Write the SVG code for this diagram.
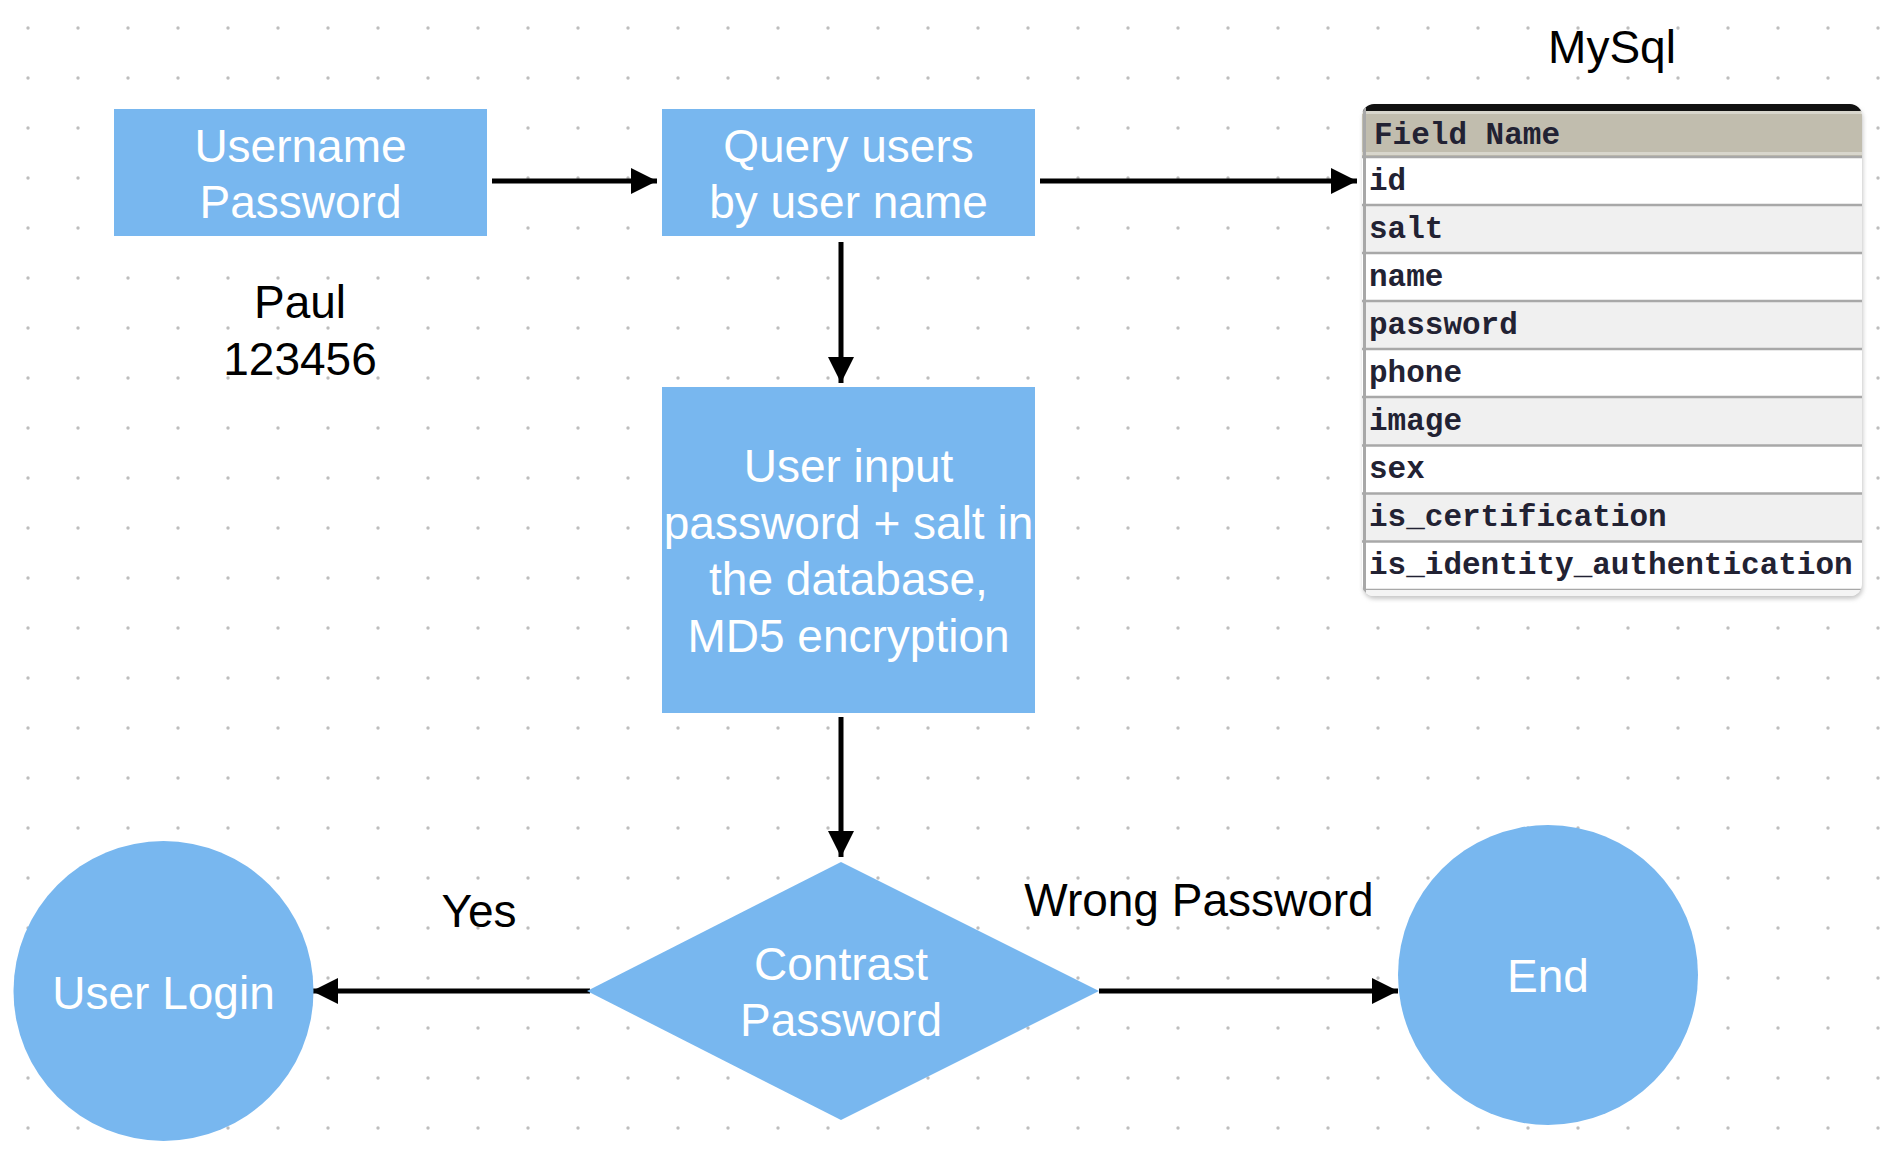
<svg xmlns="http://www.w3.org/2000/svg" width="1882" height="1158" viewBox="0 0 1882 1158">
<style>
.node{fill:#78B7EF}
.nt{font-family:"Liberation Sans",Arial,sans-serif;font-size:46px;fill:#ffffff;text-anchor:middle}
.lbl{font-family:"Liberation Sans",Arial,sans-serif;font-size:46px;fill:#000000;text-anchor:middle}
.edge{stroke:#000;stroke-width:5;fill:none}
.fld{font-family:"Liberation Mono","Courier New",monospace;font-size:31px;fill:#222233;font-weight:bold}
.sep{stroke:#A8A8A8;stroke-width:2.5}
</style>
<defs>
<pattern id="dots" patternUnits="userSpaceOnUse" x="3" y="3" width="50" height="50">
<circle cx="25" cy="25" r="1.7" fill="#BDBDBD"/>
</pattern>
<marker id="ah" markerUnits="userSpaceOnUse" markerWidth="26" markerHeight="26" refX="26" refY="13" orient="auto">
<path d="M0,0 L26,13 L0,26 Z" fill="#000"/>
</marker>
<clipPath id="tclip"><rect x="1362" y="104" width="500" height="492" rx="12"/></clipPath>
<filter id="shadow" x="-5%" y="-5%" width="110%" height="110%"><feGaussianBlur stdDeviation="2"/></filter>
</defs>
<rect width="1882" height="1158" fill="#ffffff"/>
<rect width="1882" height="1158" fill="url(#dots)"/>

<g id="connectors">
<line class="edge" x1="492" y1="181" x2="657" y2="181" marker-end="url(#ah)"/>
<line class="edge" x1="1040" y1="181" x2="1357" y2="181" marker-end="url(#ah)"/>
<line class="edge" x1="841" y1="242" x2="841" y2="383" marker-end="url(#ah)"/>
<line class="edge" x1="841" y1="717" x2="841" y2="857" marker-end="url(#ah)"/>
<line class="edge" x1="590" y1="991" x2="312" y2="991" marker-end="url(#ah)"/>
<line class="edge" x1="1099" y1="991" x2="1398" y2="991" marker-end="url(#ah)"/>
</g>

<g id="n-username">
<rect class="node" x="114" y="109" width="373" height="127"/>
<text class="nt" x="300.5" y="162">Username</text>
<text class="nt" x="300.5" y="218">Password</text>
</g>

<g id="t-paul">
<text class="lbl" x="300" y="318">Paul</text>
<text class="lbl" x="300" y="375">123456</text>
</g>

<g id="n-query">
<rect class="node" x="662" y="109" width="373" height="127"/>
<text class="nt" x="848.5" y="162">Query users</text>
<text class="nt" x="848.5" y="218">by user name</text>
</g>

<g id="n-md5">
<rect class="node" x="662" y="387" width="373" height="326"/>
<text class="nt" x="848.5" y="482">User input</text>
<text class="nt" x="848.5" y="539">password + salt in</text>
<text class="nt" x="848.5" y="595">the database,</text>
<text class="nt" x="848.5" y="652">MD5 encryption</text>
</g>

<g id="n-contrast">
<polygon class="node" points="841,862 1099,991 841,1120 587,991"/>
<text class="nt" x="841" y="980">Contrast</text>
<text class="nt" x="841" y="1036">Password</text>
</g>

<g id="n-login">
<circle class="node" cx="163.5" cy="991" r="150"/>
<text class="nt" x="163.5" y="1009">User Login</text>
</g>

<g id="n-end">
<circle class="node" cx="1548" cy="975" r="150"/>
<text class="nt" x="1548" y="992">End</text>
</g>

<g id="t-labels">
<text class="lbl" x="479" y="927">Yes</text>
<text class="lbl" x="1199" y="916">Wrong Password</text>
<text class="lbl" x="1612" y="63">MySql</text>
</g>

<g id="mysql-table">
<rect x="1363" y="107" width="500" height="492" rx="12" fill="#C8C8C8" filter="url(#shadow)"/>
<g clip-path="url(#tclip)">
<rect x="1362" y="104" width="500" height="492" fill="#ffffff"/>
<rect x="1362" y="104" width="500" height="8" fill="#111111"/>
<rect x="1362" y="111" width="500" height="3" fill="#D8D6CC"/>
<rect x="1362" y="114" width="500" height="43" fill="#C1BDAE"/>
<rect x="1362" y="152" width="500" height="3" fill="#D8D6CC"/>
<rect x="1362" y="205" width="500" height="48" fill="#F0F0F0"/>
<rect x="1362" y="301" width="500" height="48" fill="#F0F0F0"/>
<rect x="1362" y="397" width="500" height="48" fill="#F0F0F0"/>
<rect x="1362" y="493.5" width="500" height="48" fill="#F0F0F0"/>
<line class="sep" x1="1362" y1="157" x2="1862" y2="157"/>
<line class="sep" x1="1362" y1="205" x2="1862" y2="205"/>
<line class="sep" x1="1362" y1="253" x2="1862" y2="253"/>
<line class="sep" x1="1362" y1="301" x2="1862" y2="301"/>
<line class="sep" x1="1362" y1="349" x2="1862" y2="349"/>
<line class="sep" x1="1362" y1="397" x2="1862" y2="397"/>
<line class="sep" x1="1362" y1="445.5" x2="1862" y2="445.5"/>
<line class="sep" x1="1362" y1="493.5" x2="1862" y2="493.5"/>
<line class="sep" x1="1362" y1="541.5" x2="1862" y2="541.5"/>
<line class="sep" x1="1362" y1="590" x2="1862" y2="590"/>
<rect x="1362" y="590" width="500" height="6" fill="#F4F4F4"/>
<line x1="1364.5" y1="104" x2="1364.5" y2="596" stroke="#A8A8A8" stroke-width="3"/>
</g>
<text class="fld" x="1374" y="144">Field Name</text>
<text class="fld" x="1369" y="190">id</text>
<text class="fld" x="1369" y="238">salt</text>
<text class="fld" x="1369" y="286">name</text>
<text class="fld" x="1369" y="334">password</text>
<text class="fld" x="1369" y="382">phone</text>
<text class="fld" x="1369" y="430">image</text>
<text class="fld" x="1369" y="478">sex</text>
<text class="fld" x="1369" y="526">is_certification</text>
<text class="fld" x="1369" y="574">is_identity_authentication</text>
</g>
</svg>
